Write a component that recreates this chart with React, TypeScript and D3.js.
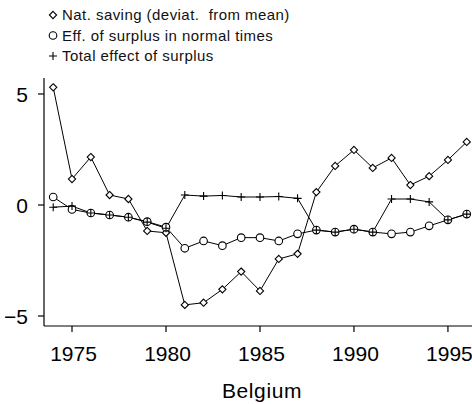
import React from "react";
import * as d3 from "d3";

const years = d3.range(1974, 1997);
const natSaving = [5.3, 1.17, 2.16, 0.45, 0.27, -1.17, -1.25, -4.5, -4.4, -3.8, -3.0, -3.87, -2.43, -2.2, 0.58, 1.76, 2.48, 1.67, 2.12, 0.9, 1.3, 2.03, 2.84];
const effSurplus = [0.36, -0.2, -0.36, -0.45, -0.55, -0.75, -1.0, -1.95, -1.62, -1.83, -1.47, -1.47, -1.62, -1.3, -1.13, -1.22, -1.09, -1.22, -1.3, -1.22, -0.94, -0.67, -0.41];
const totalEffect = [-0.1, -0.05, -0.36, -0.45, -0.55, -0.77, -1.05, 0.45, 0.4, 0.43, 0.36, 0.36, 0.38, 0.3, -1.13, -1.22, -1.09, -1.22, 0.27, 0.27, 0.14, -0.67, -0.41];
const xTicks = [1975, 1980, 1985, 1990, 1995];
const yTicks = [-5, 0, 5];
const yTickLabels = ["\u22125", "0", "5"];
const legendLabels = ["Nat. saving (deviat.  from mean)", "Eff. of surplus in normal times", "Total effect of surplus"];
const title = "Belgium";

const W = 472, H = 404;
const L = 44, R = 472, T = 78, B = 326;
const font = "'Liberation Sans', Arial, Helvetica, sans-serif";

function Diamond({ cx, cy }: { cx: number; cy: number }) {
  const s = 3.6;
  return <path d={`M${cx},${cy - s}L${cx + s},${cy}L${cx},${cy + s}L${cx - s},${cy}Z`} fill="#fff" stroke="#000" strokeWidth={1.1} />;
}
function Circ({ cx, cy }: { cx: number; cy: number }) {
  return <circle cx={cx} cy={cy} r={3.8} fill="#fff" stroke="#000" strokeWidth={1.1} />;
}
function Plus({ cx, cy }: { cx: number; cy: number }) {
  const s = 4;
  return <path d={`M${cx - s},${cy}H${cx + s}M${cx},${cy - s}V${cy + s}`} stroke="#000" strokeWidth={1.1} fill="none" />;
}

export default function App() {
  const x = d3.scaleLinear().domain([1973.51, 1996.28]).range([L, R]);
  const y = d3.scaleLinear().domain([-5.45, 5.72]).range([B, T]);
  const line = d3.line<number>().x((_, i) => x(years[i])).y((d) => y(d));
  const series = [
    { vals: natSaving, M: Diamond },
    { vals: effSurplus, M: Circ },
    { vals: totalEffect, M: Plus },
  ];
  return (
    <svg width={W} height={H} style={{ position: "absolute", left: 0, top: 0, background: "#fff" }} fontFamily={font}>
      {/* legend */}
      {legendLabels.map((lab, i) => {
        const ly = 15 + i * 20.5;
        const M = series[i].M;
        return (
          <g key={lab}>
            <M cx={53} cy={ly} />
            <text x={62} y={ly + 5} fontSize={15} letterSpacing={0.45} fill="#111" style={{ whiteSpace: "pre" }}>{lab}</text>
          </g>
        );
      })}
      {/* axes */}
      <line x1={L} x2={L} y1={T} y2={B} stroke="#000" strokeWidth={1.2} />
      <line x1={L} x2={R} y1={B} y2={B} stroke="#000" strokeWidth={1.2} />
      {yTicks.map((t, i) => (
        <g key={t}>
          <line x1={L - 6} x2={L} y1={y(t)} y2={y(t)} stroke="#000" strokeWidth={1.2} />
          <text x={28} y={y(t) + 8} fontSize={21} textAnchor="end" fill="#000">{yTickLabels[i]}</text>
        </g>
      ))}
      {xTicks.map((t) => (
        <g key={t}>
          <line x1={x(t)} x2={x(t)} y1={B} y2={B + 6} stroke="#000" strokeWidth={1.2} />
          <text x={x(t) + 1.5} y={361} fontSize={21} textAnchor="middle" fill="#000">{t}</text>
        </g>
      ))}
      <text x={262} y={398} fontSize={21} letterSpacing={0.6} textAnchor="middle" fill="#000">{title}</text>
      {/* lines */}
      {series.map((s, i) => (
        <path key={i} d={line(s.vals) || ""} fill="none" stroke="#000" strokeWidth={1} />
      ))}
      {/* markers */}
      {series.map((s, i) => (
        <g key={"m" + i}>
          {s.vals.map((v, j) => (
            <s.M key={j} cx={x(years[j])} cy={y(v)} />
          ))}
        </g>
      ))}
    </svg>
  );
}
